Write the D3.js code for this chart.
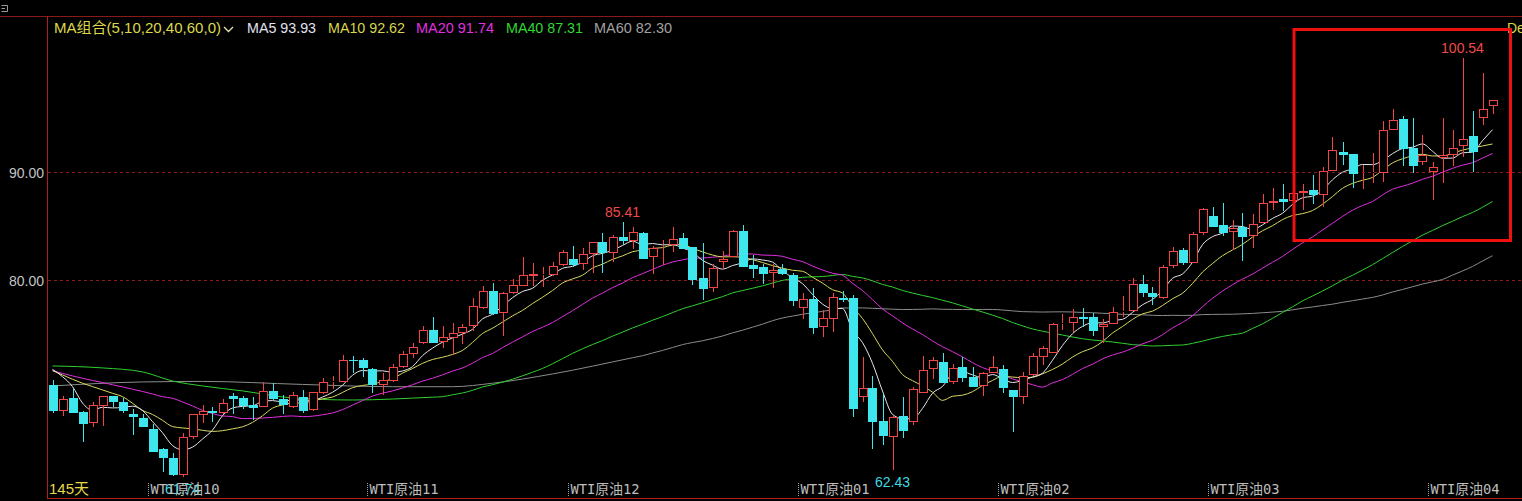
<!DOCTYPE html>
<html><head><meta charset="utf-8">
<script src="https://cdn.jsdelivr.net/npm/d3@7"></script>
<style>html,body{margin:0;padding:0;background:#000;overflow:hidden}</style>
</head><body>
<svg id="c" width="1522" height="501" xmlns="http://www.w3.org/2000/svg"></svg>
<script>
// ---------- data ----------
const openP = [70.28,67.90,69.11,67.78,66.74,68.37,69.26,68.74,67.57,67.26,66.18,64.36,63.52,61.95,65.44,67.50,67.88,67.66,69.26,69.05,
68.43,68.22,69.73,68.96,68.22,69.20,67.97,69.51,70.55,70.59,72.60,72.60,71.76,70.28,70.65,71.92,73.12,74.14,75.37,74.29,
74.66,75.07,75.74,77.44,78.99,76.92,78.77,79.48,80.40,80.45,80.46,81.39,81.92,81.49,82.38,83.49,82.53,83.96,83.64,84.33,
82.16,83.20,83.25,83.87,83.03,80.16,79.29,81.70,82.16,84.54,81.39,81.18,80.62,80.99,80.46,77.38,78.22,75.68,76.36,78.37,
78.31,69.14,70.03,66.95,65.50,67.41,66.88,69.57,71.74,72.38,70.59,71.92,71.05,70.22,71.37,71.74,69.82,69.17,71.18,72.90,
73.27,75.93,75.99,76.55,76.61,75.62,75.93,77.00,77.16,79.60,78.77,78.31,81.33,82.78,81.60,84.33,85.93,85.10,84.48,84.94,
84.11,85.26,87.10,87.48,87.35,88.09,88.34,87.87,90.12,91.83,91.67,89.90,89.96,89.94,93.89,94.88,92.20,90.90,90.03,91.27,
91.58,92.44,93.34,94.98,96.12];
const highP = [70.74,69.26,69.90,67.85,68.74,69.30,69.30,69.11,68.03,67.57,66.67,64.40,63.95,65.87,67.62,68.43,68.22,68.96,69.57,69.26,
69.20,70.53,70.44,69.36,69.66,69.82,69.65,70.96,71.11,73.06,72.97,72.75,71.83,71.36,72.23,73.43,74.14,75.77,76.55,75.74,
76.05,75.93,78.31,79.45,79.75,78.85,80.07,82.16,81.55,81.25,81.70,82.78,83.15,82.94,83.55,84.38,84.17,85.41,84.88,84.48,
83.15,83.71,84.88,84.33,83.05,83.40,81.48,82.68,84.63,85.10,82.31,81.48,81.48,81.48,80.62,78.83,79.23,77.22,78.83,79.00,
78.61,72.85,71.11,69.45,67.40,69.20,70.13,72.97,72.90,73.22,72.23,72.90,71.97,71.52,72.97,72.13,69.85,71.52,73.25,73.89,
76.05,76.83,77.29,77.38,76.98,76.36,77.53,78.52,80.16,80.46,79.38,81.39,83.08,82.94,84.48,86.70,86.79,87.11,85.56,86.18,
86.12,87.97,88.49,88.89,88.70,88.86,89.73,90.49,93.22,92.75,91.70,90.65,91.79,94.75,95.81,95.19,94.97,93.43,90.96,94.97,
93.89,100.54,95.65,99.14,96.70];
const lowP = [67.69,67.44,67.69,65.03,66.42,66.49,68.25,67.66,65.65,66.35,64.05,62.26,61.88,61.74,65.25,66.79,66.86,67.62,67.60,68.03,
67.04,68.20,68.92,67.60,68.15,67.69,67.90,69.48,69.88,70.55,71.36,71.05,69.57,69.36,70.60,71.85,72.75,74.10,74.14,73.68,
73.06,74.08,75.28,77.32,76.80,74.84,78.75,79.45,79.45,79.35,80.40,81.30,81.23,80.93,80.68,80.68,81.70,83.24,82.85,81.93,
80.56,81.39,82.62,82.85,79.54,78.15,78.87,81.02,82.10,81.20,80.16,79.63,79.23,80.50,77.62,76.36,74.97,74.70,75.22,77.97,
67.29,68.74,64.33,64.73,62.43,65.40,66.58,69.55,70.81,70.48,70.37,70.59,70.10,69.29,71.35,69.57,65.96,68.52,71.15,72.13,
73.25,75.37,75.22,75.68,74.84,74.20,75.90,76.61,77.14,78.46,77.69,78.28,81.09,81.39,81.58,84.17,84.92,84.07,82.78,81.79,
82.94,85.24,86.49,86.42,86.80,86.49,87.04,86.73,90.10,90.65,88.49,88.40,89.01,89.11,93.87,90.59,89.94,90.65,87.41,89.01,
90.56,91.42,90.03,94.36,95.35];
const closeP = [67.88,68.96,67.72,66.70,68.43,69.26,68.68,67.90,67.32,66.42,64.11,63.55,61.92,65.44,67.60,67.88,67.66,68.59,69.01,68.34,
68.13,69.73,68.96,68.43,69.36,67.88,69.61,70.53,70.65,72.60,72.50,71.83,70.28,70.74,71.92,73.12,73.83,75.37,74.20,74.70,
75.07,75.62,77.60,79.01,76.83,78.83,79.54,80.46,80.52,80.52,81.33,82.57,81.39,82.41,83.49,82.48,83.96,83.64,84.42,81.95,
82.94,83.30,83.77,82.88,80.00,79.17,81.08,81.90,84.54,81.24,81.02,80.56,80.93,80.53,78.06,78.22,75.59,76.46,78.40,78.15,
68.03,69.98,66.88,65.56,67.35,66.05,69.91,71.67,72.60,70.50,71.86,70.96,70.13,71.37,71.92,69.98,69.14,71.11,72.97,73.68,
75.93,76.00,76.55,76.37,75.31,75.93,77.07,77.10,79.60,78.83,78.40,81.24,82.72,81.60,84.26,86.55,84.94,84.38,84.85,84.01,
85.19,87.11,87.35,87.25,88.09,88.27,87.88,90.12,92.04,91.58,89.79,89.97,90.03,93.89,94.82,92.13,90.59,91.58,90.49,91.58,
92.20,93.03,91.88,95.81,96.67];

// moving-average values before enough visible history exists [candle index, value]
const ma5Lead = [[0,71.73],[1,71.05],[2,70.13],[3,68.61]];
const ma10Lead = [[0,71.61],[1,71.21],[2,70.81],[3,70.44],[4,70.13],[5,69.82],[6,69.51],[7,69.20],[8,68.59]];
const ma20Lead = [[0,71.61],[1,71.35],[2,71.12],[3,70.90],[4,70.70],[5,70.51],[6,70.30],[7,70.10],[8,69.89],[9,69.68],
  [10,69.45],[11,69.19],[12,69.05],[13,68.71],[14,68.34],[15,67.92],[16,67.64],[17,67.41],[18,67.35]];
const ma40Lead = [[0,72.04],[5,71.86],[9,71.49],[12,70.65],[15,70.19],[19,69.73],[24,69.08],[30,68.89],[38,69.15]];
const ma60Lead = [[0,70.19],[9,70.56],[15,70.61],[25,70.33],[34,70.12],[40,70.12],[44,70.44],[50,71.30],[58,72.80]];

const maPeriods = [5,10,20,40,60];
const maLeads = [ma5Lead, ma10Lead, ma20Lead, ma40Lead, ma60Lead];
const maColors = ["#e6e6ee","#d8d860","#e030e0","#30d030","#8c8c8c"];
const maLastLabels = ["MA5 93.93","MA10 92.62","MA20 91.74","MA40 87.31","MA60 82.30"];
const legendTitle = "MA组合(5,10,20,40,60,0)";

const yTicks = [80, 90];
const monthLabels = ["WTI原油10","WTI原油11","WTI原油12","WTI原油01","WTI原油02","WTI原油03","WTI原油04"];
const monthStartIdx = [10,32,52,75,95,116,138];
const markHigh = [{i:57, v:85.41}, {i:141, v:100.54}];
const markLow = [{i:13, v:61.74}, {i:84, v:62.43}];

// ---------- drawing ----------
const W = 1522, H = 501;
const svg = d3.select("#c");
svg.append("rect").attr("width", W).attr("height", H).attr("fill", "#000");

const n = closeP.length;
const x = d3.scaleLinear().domain([0, n - 1]).range([52.5, 1492.5]);
const y = d3.scaleLinear().domain([80, 90]).range([280, 172]);

const UP = "#f04646", DOWN = "#3ee6ee";

// frame
svg.append("line").attr("x1", 0).attr("x2", W).attr("y1", 16.5).attr("y2", 16.5).attr("stroke", "#8a1a1a");
svg.append("line").attr("x1", 47.5).attr("x2", 47.5).attr("y1", 16).attr("y2", 499).attr("stroke", "#b01e1e");
svg.append("line").attr("x1", 47).attr("x2", W).attr("y1", 498.5).attr("y2", 498.5).attr("stroke", "#b01e1e");

// grid + y labels
const gy = svg.append("g");
yTicks.forEach(t => {
  const yy = Math.round(y(t)) + 0.5;
  gy.append("line").attr("x1", 48).attr("x2", W).attr("y1", yy).attr("y2", yy)
    .attr("stroke", "#8c1c1c").attr("stroke-dasharray", "3,3");
  gy.append("text").attr("x", 44).attr("y", yy + 5).attr("text-anchor", "end")
    .attr("fill", "#c4c4c4").attr("font-family", "Liberation Sans, Arial, sans-serif")
    .attr("font-size", 14).text(d3.format(".2f")(t));
});

// MA lines
function maSeries(p, lead) {
  const pts = lead.map(d => [d[0], d[1]]);
  for (let i = p - 1; i < n; i++) {
    pts.push([i, d3.mean(closeP.slice(i - p + 1, i + 1))]);
  }
  return pts;
}
const line = d3.line().x(d => x(d[0])).y(d => y(d[1])).curve(d3.curveMonotoneX);
const gma = svg.append("g");
// draw slow lines first
[4,3,2,1,0].forEach(k => {
  gma.append("path").attr("d", line(maSeries(maPeriods[k], maLeads[k])))
    .attr("fill", "none").attr("stroke", maColors[k]).attr("stroke-width", 1);
});

// candles
const gc = svg.append("g").attr("shape-rendering", "crispEdges");
for (let i = 0; i < n; i++) {
  const cx = Math.round(x(i));
  const o = openP[i], c = closeP[i], h = highP[i], l = lowP[i];
  const up = c >= o;
  const col = up ? UP : DOWN;
  const yTop = Math.round(y(Math.max(o, c)));
  let yBot = Math.round(y(Math.min(o, c)));
  if (yBot - yTop < 1) yBot = yTop + 1;
  const yH = Math.round(y(h)), yL = Math.round(y(l));
  if (up) {
    gc.append("line").attr("x1", cx + 0.5).attr("x2", cx + 0.5).attr("y1", yH).attr("y2", yTop).attr("stroke", col);
    gc.append("line").attr("x1", cx + 0.5).attr("x2", cx + 0.5).attr("y1", yBot).attr("y2", yL).attr("stroke", col);
    gc.append("rect").attr("x", cx - 3.5).attr("y", yTop + 0.5).attr("width", 8).attr("height", Math.max(yBot - yTop - 1, 0))
      .attr("fill", "#000").attr("stroke", col);
  } else {
    gc.append("line").attr("x1", cx + 0.5).attr("x2", cx + 0.5).attr("y1", yH).attr("y2", yL).attr("stroke", col);
    gc.append("rect").attr("x", cx - 4).attr("y", yTop).attr("width", 9).attr("height", Math.max(yBot - yTop, 1))
      .attr("fill", col);
  }
}

// high / low markers
const fontNum = "Liberation Sans, Arial, sans-serif";
markHigh.forEach(m => {
  svg.append("text").attr("x", x(m.i)).attr("y", y(m.v) - 5).attr("text-anchor", "middle")
    .attr("fill", "#f04a4a").attr("font-family", fontNum).attr("font-size", 14).text(d3.format(".2f")(m.v));
});
markLow.forEach(m => {
  svg.append("text").attr("x", x(m.i)).attr("y", y(m.v) + 17).attr("text-anchor", "middle")
    .attr("fill", "#3ed8e0").attr("font-family", fontNum).attr("font-size", 14).text(d3.format(".2f")(m.v));
});

// x axis month labels
const gx = svg.append("g");
monthLabels.forEach((lab, k) => {
  const tx = Math.round(x(monthStartIdx[k]) - 5) + 0.5;
  gx.append("line").attr("x1", tx).attr("x2", tx).attr("y1", 483).attr("y2", 497)
    .attr("stroke", "#a0a0a0").attr("stroke-dasharray", "1,1");
  gx.append("text").attr("x", tx + 2).attr("y", 494).attr("fill", "#bdbdbd")
    .attr("font-family", "DejaVu Sans Mono, Noto Sans CJK SC, monospace").attr("font-size", 14)
    .attr("textLength", 69).attr("lengthAdjust", "spacingAndGlyphs").text(lab);
});
svg.append("text").attr("x", 49).attr("y", 494).attr("fill", "#e4d848")
  .attr("font-family", "Liberation Sans, Noto Sans CJK SC, sans-serif").attr("font-size", 15).text("145天");

// legend header
const lf = "Liberation Sans, Noto Sans CJK SC, sans-serif";
svg.append("text").attr("x", 54).attr("y", 33).attr("fill", "#dcd84a").attr("font-family", lf)
  .attr("font-size", 15).attr("textLength", 167).attr("lengthAdjust", "spacingAndGlyphs").text(legendTitle);
svg.append("path").attr("d", "M224,27 L228.5,31.5 L233,27").attr("fill", "none").attr("stroke", "#e8e6b0").attr("stroke-width", 1.3);
const legendX = [247, 328, 416, 506, 594];
const legendW = [69, 77, 78, 77, 78];
const legendCol = ["#e2e2f2","#d8d648","#e030e0","#30d830","#a0a0a0"];
maLastLabels.forEach((t, k) => {
  svg.append("text").attr("x", legendX[k]).attr("y", 33).attr("fill", legendCol[k]).attr("font-family", lf)
    .attr("font-size", 15).attr("textLength", legendW[k]).attr("lengthAdjust", "spacingAndGlyphs").text(t);
});
svg.append("text").attr("x", 1507).attr("y", 33).attr("fill", "#d8d648").attr("font-family", lf)
  .attr("font-size", 14).text("De");

// top-left small icon
svg.append("path").attr("d", "M1.5,5.5 H7.5 V11.5 H1.5 M1.5,8.5 H5").attr("fill", "none").attr("stroke", "#9a9a9a");

// highlight box
svg.append("rect").attr("x", 1294).attr("y", 29.5).attr("width", 216.5).attr("height", 211)
  .attr("fill", "none").attr("stroke", "#f01010").attr("stroke-width", 3);
</script>
</body></html>
